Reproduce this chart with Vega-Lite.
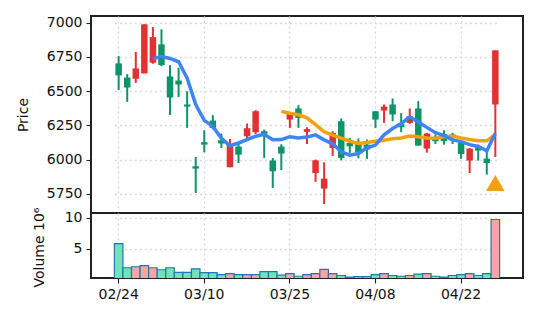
{
  "$schema": "https://vega.github.io/schema/vega-lite/v6.json",
  "background": "white",
  "padding": {"left": 15, "top": 14, "right": 10, "bottom": 10},
  "spacing": 0,
  "bounds": "flush",
  "config": {
    "font": "DejaVu Sans",
    "view": {"stroke": "#222", "strokeWidth": 2},
    "axis": {
      "labelFont": "DejaVu Sans", "labelFontSize": 14, "labelColor": "#111", "labelOverlap": false,
      "titleFont": "DejaVu Sans", "titleFontSize": 14, "titleFontWeight": "normal", "titleColor": "#111",
      "tickColor": "#222", "tickWidth": 1.1, "tickSize": 5, "labelPadding": 4,
      "domain": false, "gridColor": "#d9d9d9", "gridDash": [2, 3], "gridWidth": 1.3
    }
  },
  "data": {"values": [
    {"d": "02/24", "o": 6703, "h": 6756, "l": 6508, "c": 6615, "v": 5.86, "dir": "d", "ma5": null, "ma20": null, "sig": null},
    {"d": "02/25", "o": 6600, "h": 6625, "l": 6422, "c": 6527, "v": 1.97, "dir": "d", "ma5": null, "ma20": null, "sig": null},
    {"d": "02/26", "o": 6591, "h": 6786, "l": 6561, "c": 6666, "v": 2.13, "dir": "u", "ma5": null, "ma20": null, "sig": null},
    {"d": "02/27", "o": 6630, "h": 6990, "l": 6630, "c": 6988, "v": 2.31, "dir": "u", "ma5": null, "ma20": null, "sig": null},
    {"d": "02/28", "o": 6708, "h": 6968, "l": 6700, "c": 6895, "v": 1.97, "dir": "u", "ma5": 6738, "ma20": null, "sig": null},
    {"d": "03/03", "o": 6842, "h": 6952, "l": 6683, "c": 6691, "v": 1.65, "dir": "d", "ma5": 6753, "ma20": null, "sig": null},
    {"d": "03/04", "o": 6608, "h": 6690, "l": 6327, "c": 6454, "v": 1.97, "dir": "d", "ma5": 6739, "ma20": null, "sig": null},
    {"d": "03/05", "o": 6578, "h": 6671, "l": 6457, "c": 6549, "v": 1.22, "dir": "d", "ma5": 6715, "ma20": null, "sig": null},
    {"d": "03/06", "o": 6403, "h": 6500, "l": 6232, "c": 6388, "v": 1.22, "dir": "d", "ma5": 6595, "ma20": null, "sig": null},
    {"d": "03/07", "o": 5952, "h": 6020, "l": 5757, "c": 5935, "v": 1.8, "dir": "d", "ma5": 6403, "ma20": null, "sig": null},
    {"d": "03/10", "o": 6128, "h": 6215, "l": 6054, "c": 6110, "v": 1.2, "dir": "d", "ma5": 6287, "ma20": null, "sig": null},
    {"d": "03/11", "o": 6286, "h": 6325, "l": 6220, "c": 6232, "v": 1.2, "dir": "d", "ma5": 6243, "ma20": null, "sig": null},
    {"d": "03/12", "o": 6142, "h": 6191, "l": 6086, "c": 6118, "v": 0.88, "dir": "d", "ma5": 6157, "ma20": null, "sig": null},
    {"d": "03/13", "o": 5945, "h": 6152, "l": 5945, "c": 6115, "v": 1.04, "dir": "u", "ma5": 6102, "ma20": null, "sig": null},
    {"d": "03/14", "o": 6096, "h": 6115, "l": 5976, "c": 6037, "v": 0.88, "dir": "d", "ma5": 6122, "ma20": null, "sig": null},
    {"d": "03/17", "o": 6171, "h": 6264, "l": 6154, "c": 6230, "v": 0.88, "dir": "u", "ma5": 6146, "ma20": null, "sig": null},
    {"d": "03/18", "o": 6201, "h": 6361, "l": 6188, "c": 6354, "v": 0.88, "dir": "u", "ma5": 6171, "ma20": null, "sig": null},
    {"d": "03/19", "o": 6208, "h": 6220, "l": 6013, "c": 6188, "v": 1.36, "dir": "d", "ma5": 6185, "ma20": null, "sig": null},
    {"d": "03/21", "o": 5994, "h": 6013, "l": 5794, "c": 5916, "v": 1.36, "dir": "d", "ma5": 6145, "ma20": null, "sig": null},
    {"d": "03/24", "o": 6096, "h": 6113, "l": 5925, "c": 6045, "v": 0.77, "dir": "d", "ma5": 6147, "ma20": 6353, "sig": null},
    {"d": "03/25", "o": 6293, "h": 6347, "l": 6232, "c": 6337, "v": 1.04, "dir": "u", "ma5": 6168, "ma20": 6339, "sig": null},
    {"d": "03/26", "o": 6374, "h": 6398, "l": 6232, "c": 6305, "v": 0.6, "dir": "d", "ma5": 6158, "ma20": 6328, "sig": null},
    {"d": "03/27", "o": 6203, "h": 6237, "l": 6115, "c": 6223, "v": 0.88, "dir": "u", "ma5": 6165, "ma20": 6306, "sig": null},
    {"d": "03/28", "o": 5903, "h": 6001, "l": 5838, "c": 5996, "v": 1.04, "dir": "u", "ma5": 6181, "ma20": 6256, "sig": null},
    {"d": "03/31", "o": 5789, "h": 5981, "l": 5677, "c": 5862, "v": 1.7, "dir": "u", "ma5": 6145, "ma20": 6204, "sig": null},
    {"d": "04/01", "o": 6086, "h": 6208, "l": 6028, "c": 6196, "v": 1.04, "dir": "u", "ma5": 6116, "ma20": 6180, "sig": null},
    {"d": "04/02", "o": 6281, "h": 6301, "l": 5996, "c": 6013, "v": 0.72, "dir": "d", "ma5": 6058, "ma20": 6158, "sig": null},
    {"d": "04/03", "o": 6123, "h": 6159, "l": 6050, "c": 6098, "v": 0.45, "dir": "d", "ma5": 6033, "ma20": 6135, "sig": null},
    {"d": "04/04", "o": 6120, "h": 6155, "l": 6010, "c": 6055, "v": 0.55, "dir": "d", "ma5": 6045, "ma20": 6118, "sig": null},
    {"d": "04/07", "o": 6110, "h": 6147, "l": 6006, "c": 6074, "v": 0.55, "dir": "d", "ma5": 6087, "ma20": 6125, "sig": null},
    {"d": "04/08", "o": 6354, "h": 6354, "l": 6232, "c": 6293, "v": 0.88, "dir": "d", "ma5": 6107, "ma20": 6134, "sig": null},
    {"d": "04/09", "o": 6359, "h": 6403, "l": 6269, "c": 6388, "v": 1.04, "dir": "u", "ma5": 6182, "ma20": 6142, "sig": null},
    {"d": "04/10", "o": 6403, "h": 6447, "l": 6281, "c": 6330, "v": 0.72, "dir": "d", "ma5": 6228, "ma20": 6153, "sig": null},
    {"d": "04/11", "o": 6259, "h": 6340, "l": 6201, "c": 6237, "v": 0.6, "dir": "d", "ma5": 6264, "ma20": 6159, "sig": null},
    {"d": "04/14", "o": 6269, "h": 6374, "l": 6262, "c": 6318, "v": 0.72, "dir": "u", "ma5": 6313, "ma20": 6173, "sig": null},
    {"d": "04/15", "o": 6374, "h": 6427, "l": 6103, "c": 6103, "v": 0.93, "dir": "d", "ma5": 6275, "ma20": 6167, "sig": null},
    {"d": "04/16", "o": 6081, "h": 6196, "l": 6052, "c": 6191, "v": 1.04, "dir": "u", "ma5": 6236, "ma20": 6158, "sig": null},
    {"d": "04/17", "o": 6164, "h": 6184, "l": 6115, "c": 6135, "v": 0.6, "dir": "d", "ma5": 6197, "ma20": 6156, "sig": null},
    {"d": "04/18", "o": 6189, "h": 6215, "l": 6110, "c": 6135, "v": 0.45, "dir": "d", "ma5": 6176, "ma20": 6167, "sig": null},
    {"d": "04/21", "o": 6184, "h": 6196, "l": 6115, "c": 6159, "v": 0.72, "dir": "d", "ma5": 6145, "ma20": 6172, "sig": null},
    {"d": "04/22", "o": 6123, "h": 6135, "l": 6006, "c": 6042, "v": 0.88, "dir": "d", "ma5": 6132, "ma20": 6158, "sig": null},
    {"d": "04/23", "o": 5994, "h": 6086, "l": 5903, "c": 6081, "v": 1.04, "dir": "u", "ma5": 6110, "ma20": 6147, "sig": null},
    {"d": "04/24", "o": 6091, "h": 6110, "l": 5994, "c": 6067, "v": 0.72, "dir": "d", "ma5": 6097, "ma20": 6139, "sig": null},
    {"d": "04/25", "o": 6008, "h": 6062, "l": 5891, "c": 5976, "v": 1.04, "dir": "d", "ma5": 6065, "ma20": 6138, "sig": null},
    {"d": "04/28", "o": 6403, "h": 6798, "l": 6020, "c": 6798, "v": 9.75, "dir": "u", "ma5": 6193, "ma20": 6185, "sig": 5830}
  ]},
  "vconcat": [
    {
      "width": 432,
      "height": 197,
      "encoding": {
        "x": {"field": "d", "type": "ordinal", "scale": {"paddingInner": 0, "paddingOuter": 0, "range": [23.38, 408.62]},
              "axis": {"labels": false, "ticks": false, "domain": false, "title": null, "grid": true, "bandPosition": 0.5,
                       "values": ["02/24", "03/10", "03/25", "04/08", "04/22"]}}
      },
      "layer": [
        {
          "mark": {"type": "rule", "strokeWidth": 2},
          "encoding": {
            "y": {"field": "l", "type": "quantitative", "title": "Price",
                  "scale": {"domain": [5611, 7049], "nice": false, "zero": false},
                  "axis": {"values": [5750, 6000, 6250, 6500, 6750, 7000], "tickCount": 20, "format": "d", "grid": true, "labelOverlap": false,
                           "title": "Price", "titleAngle": -90, "titleX": -64, "titleY": 98.5,
                           "titleAlign": "center", "titleBaseline": "alphabetic"}},
            "y2": {"field": "h"},
            "color": {"field": "dir", "type": "nominal", "scale": {"domain": ["u", "d"], "range": ["#e03232", "#0f9468"]}, "legend": null}
          }
        },
        {
          "mark": {"type": "bar", "size": 6.5},
          "encoding": {
            "y": {"field": "o", "type": "quantitative", "title": "Price"},
            "y2": {"field": "c"},
            "color": {"field": "dir", "type": "nominal", "scale": {"domain": ["u", "d"], "range": ["#e03232", "#0f9468"]}, "legend": null}
          }
        },
        {
          "transform": [{"filter": "datum.ma20 != null"}],
          "mark": {"type": "line", "color": "#f5a010", "strokeWidth": 3.5},
          "encoding": {"y": {"field": "ma20", "type": "quantitative", "title": "Price"}}
        },
        {
          "transform": [{"filter": "datum.ma5 != null"}],
          "mark": {"type": "line", "color": "#3d85f5", "strokeWidth": 3.5},
          "encoding": {"y": {"field": "ma5", "type": "quantitative", "title": "Price"}}
        },
        {
          "transform": [{"filter": "datum.sig != null"}],
          "mark": {"type": "point", "shape": "triangle-up", "size": 340, "filled": true, "color": "#f5a010", "opacity": 1},
          "encoding": {"y": {"field": "sig", "type": "quantitative", "title": "Price"}}
        }
      ]
    },
    {
      "width": 432,
      "height": 65,
      "mark": {"type": "bar", "stroke": "#1f77b4", "strokeWidth": 1.2, "clip": true},
      "encoding": {
        "x": {"field": "d", "type": "ordinal", "scale": {"paddingInner": 0, "paddingOuter": 0, "range": [23.38, 408.62]},
              "axis": {"title": null, "labelAngle": 0, "grid": true, "bandPosition": 0.5, "domain": false, "labelOverlap": false,
                       "values": ["02/24", "03/10", "03/25", "04/08", "04/22"]}},
        "y": {"field": "v", "type": "quantitative",
              "scale": {"domain": [0.32, 10.8], "nice": false, "zero": false},
              "axis": {"values": [5, 10], "tickCount": 10, "grid": true, "title": "Volume  10⁶", "titleAngle": -90, "labelOverlap": false,
                       "titleX": -48, "titleY": 34, "titleAlign": "center", "titleBaseline": "alphabetic"}},
        "color": {"field": "dir", "type": "nominal", "scale": {"domain": ["u", "d"], "range": ["#f8a5a5", "#70e4b8"]}, "legend": null}
      }
    }
  ],
  "resolve": {"scale": {"color": "independent"}}
}
